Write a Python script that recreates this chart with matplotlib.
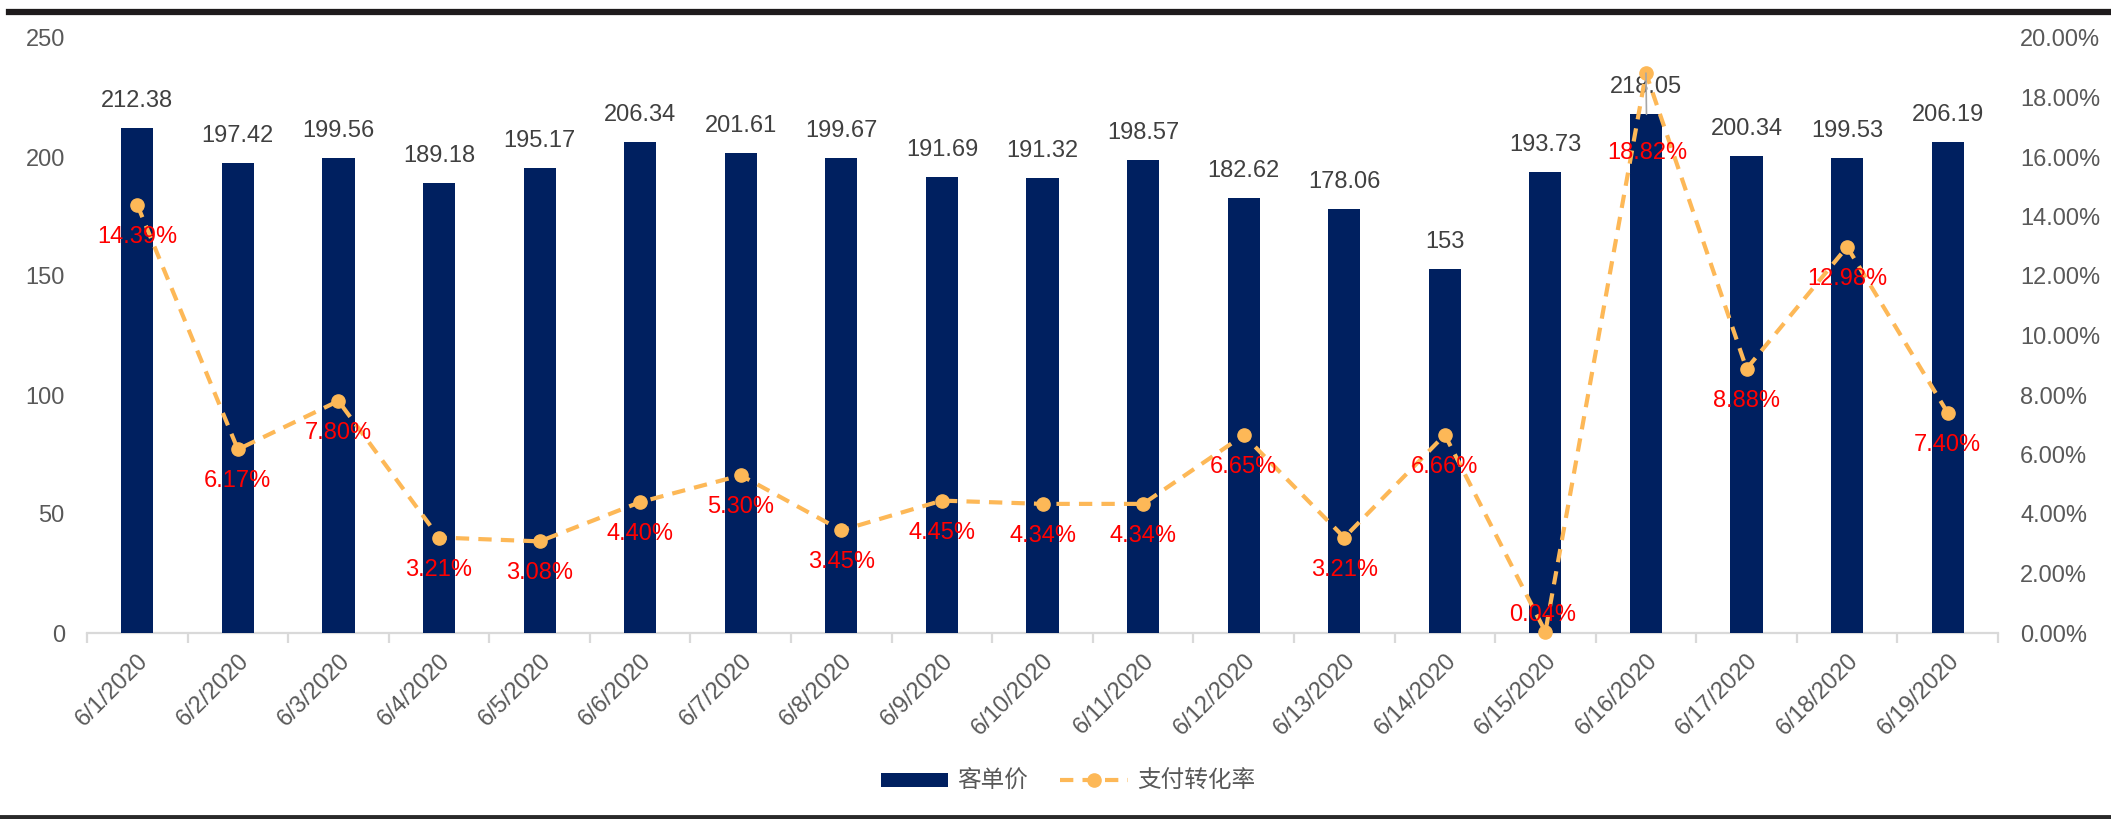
import matplotlib
matplotlib.use("Agg")
import matplotlib.pyplot as plt
from matplotlib.lines import Line2D
from matplotlib.patches import Patch
from matplotlib.ticker import FuncFormatter, MultipleLocator

plt.rcParams['font.family'] = ['Liberation Sans', 'Noto Sans CJK SC', 'DejaVu Sans']

# ---- data ----
dates = ["6/1/2020", "6/2/2020", "6/3/2020", "6/4/2020", "6/5/2020", "6/6/2020",
         "6/7/2020", "6/8/2020", "6/9/2020", "6/10/2020", "6/11/2020", "6/12/2020",
         "6/13/2020", "6/14/2020", "6/15/2020", "6/16/2020", "6/17/2020",
         "6/18/2020", "6/19/2020"]
avg_order_value = [212.38, 197.42, 199.56, 189.18, 195.17, 206.34, 201.61, 199.67,
                   191.69, 191.32, 198.57, 182.62, 178.06, 153, 193.73, 218.05,
                   200.34, 199.53, 206.19]
conversion_rate = [14.39, 6.17, 7.80, 3.21, 3.08, 4.40, 5.30, 3.45, 4.45, 4.34,
                   4.34, 6.65, 3.21, 6.66, 0.04, 18.82, 8.88, 12.98, 7.40]
bar_label = "客单价"
line_label = "支付转化率"

NAVY = "#002060"
ORANGE = "#FDB857"
TICK_GREY = "#595959"
AXIS_GREY = "#D9D9D9"
VALUE_GREY = "#404040"
FS = 17

W, H = 2111, 819
fig = plt.figure(figsize=(W / 100, H / 100), dpi=100)
ax = fig.add_axes([87 / W, (H - 633) / H, 1911 / W, 595 / H])
ax2 = ax.twinx()

x = list(range(len(dates)))

# bars: average order value
ax.bar(x, avg_order_value, width=0.32, color=NAVY, zorder=2)
ax.set_xlim(-0.5, len(dates) - 0.5)
ax.set_ylim(0, 250)
ax.yaxis.set_major_locator(MultipleLocator(50))

for xi, v in zip(x, avg_order_value):
    ax.annotate(f"{v:g}", (xi, v), xytext=(0, 27), textcoords="offset pixels",
                ha="center", va="center", fontsize=FS, color=VALUE_GREY, zorder=5)

# line: payment conversion rate
ax2.plot(x, conversion_rate, color=ORANGE, lw=3, ls=(0, (3.2, 2.2)),
         marker="o", ms=9.5, zorder=4, clip_on=False)
ax2.set_ylim(0, 20)
ax2.yaxis.set_major_locator(MultipleLocator(2))
ax2.yaxis.set_major_formatter(FuncFormatter(lambda v, _: f"{v:.2f}%"))

peak = max(range(len(conversion_rate)), key=lambda i: conversion_rate[i])
for xi, v in zip(x, conversion_rate):
    if xi == peak:
        # peak label is pushed down below the bar value, with a leader line
        ax2.annotate(f"{v:.2f}%", (xi, v), xytext=(1, -80), textcoords="offset pixels",
                     ha="center", va="center", fontsize=FS, color="red", zorder=6,
                     arrowprops=dict(arrowstyle="-", color="#A6A6A6", lw=1.2,
                                     shrinkA=18, shrinkB=0))
    elif v < 1:
        ax2.annotate(f"{v:.2f}%", (xi, v), xytext=(-3, 17), textcoords="offset pixels",
                     ha="center", va="center", fontsize=FS, color="red", zorder=6)
    else:
        ax2.annotate(f"{v:.2f}%", (xi, v), xytext=(0, -32), textcoords="offset pixels",
                     ha="center", va="center", fontsize=FS, color="red", zorder=6)

# axes styling
for a in (ax, ax2):
    for s in ("top", "left", "right", "bottom"):
        a.spines[s].set_visible(False)
ax.spines["bottom"].set_visible(True)
ax.spines["bottom"].set_color(AXIS_GREY)
ax.spines["bottom"].set_linewidth(1.6)
ax.spines["bottom"].set_zorder(1)

ax.set_xticks(x)
ax.set_xticklabels(dates, rotation=45, ha="right", rotation_mode="anchor",
                   fontsize=FS, color=TICK_GREY)
ax.tick_params(axis="x", length=0, pad=12)
ax.set_xticks([i + 0.5 for i in range(-1, len(dates))], minor=True)
ax.tick_params(axis="x", which="minor", length=7, width=1.6, color=AXIS_GREY)

ax.tick_params(axis="y", length=0, pad=16, labelsize=FS, labelcolor=TICK_GREY)
ax2.tick_params(axis="y", length=0, pad=16, labelsize=FS, labelcolor=TICK_GREY)

# legend
handles = [Patch(facecolor=NAVY, edgecolor="none", label=bar_label),
           Line2D([], [], color=ORANGE, lw=3, ls=(0, (3.2, 2.2)), marker="o",
                  ms=9.5, label=line_label)]
fig.legend(handles=handles, loc="center", bbox_to_anchor=(1068 / W, 1 - 782 / H),
           ncol=2, frameon=False, fontsize=FS, labelcolor=TICK_GREY,
           handlelength=2.85, handleheight=0.55, handletextpad=0.4,
           columnspacing=1.35, numpoints=1)

# frame rules at top and bottom
fig.add_artist(Line2D([9 / W, 1], [1 - 12 / H] * 2, color="#1E1B1C", lw=4.5,
                      transform=fig.transFigure))
fig.add_artist(Line2D([0, 1], [1 - 817 / H] * 2, color="#2A2A2A", lw=3.5,
                      transform=fig.transFigure))

fig.savefig("out.png", dpi=100, facecolor="white")
